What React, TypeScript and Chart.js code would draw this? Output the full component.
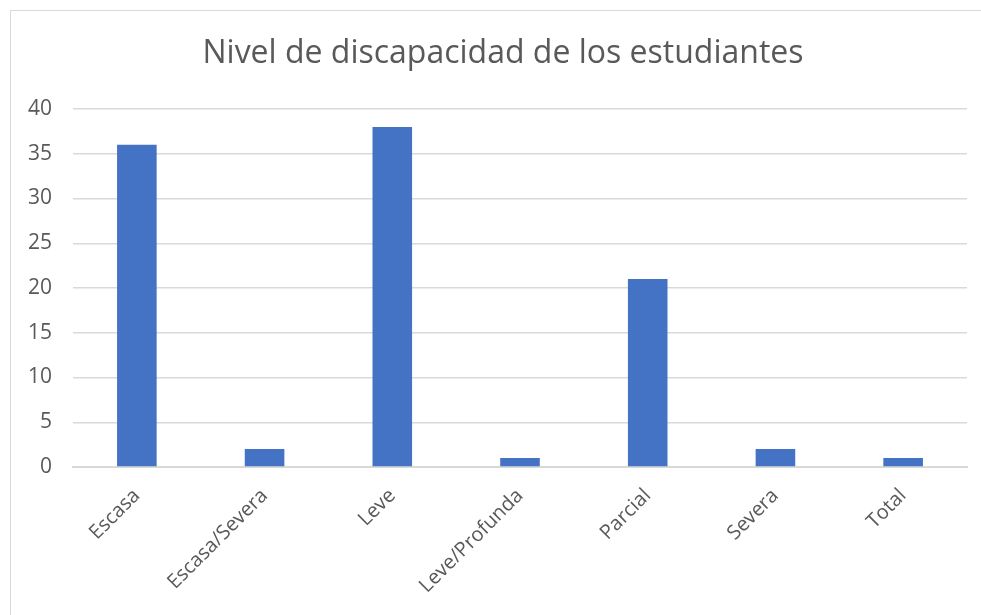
import React, { useEffect, useRef } from "react";
import { Chart, registerables } from "chart.js";

Chart.register(...registerables);

const categories = ["Escasa", "Escasa/Severa", "Leve", "Leve/Profunda", "Parcial", "Severa", "Total"];
const values = [36, 2, 38, 1, 21, 2, 1];
const yTicks = [0, 5, 10, 15, 20, 25, 30, 35, 40];
const titleText = "Nivel de discapacidad de los estudiantes";

const titlePlugin = {
  id: "centeredTitle",
  afterDraw(chart: any) {
    const ctx = chart.ctx;
    ctx.save();
    ctx.fillStyle = "#595959";
    ctx.font = "32px 'Open Sans'";
    ctx.textAlign = "center";
    ctx.textBaseline = "middle";
    ctx.fillText(titleText, 503, 54);
    ctx.restore();
  },
};

export default function App() {
  const ref = useRef<HTMLCanvasElement | null>(null);
  useEffect(() => {
    if (!ref.current) return;
    const chart = new Chart(ref.current, {
      type: "bar",
      data: {
        labels: categories,
        datasets: [
          {
            data: values,
            backgroundColor: "#4472C4",
            borderWidth: 0,
            barPercentage: 0.31,
            categoryPercentage: 1,
          },
        ],
      },
      plugins: [titlePlugin],
      options: {
        responsive: false,
        animation: false,
        layout: { padding: { left: 0, right: 14, top: 109, bottom: 0 } },
        plugins: {
          legend: { display: false },
          tooltip: { enabled: false },
          title: { display: false },
        },
        scales: {
          x: {
            grid: { display: false },
            border: { color: "#d9d9d9", width: 2 },
            ticks: {
              color: "#595959",
              font: { family: "Open Sans", size: 20 },
              minRotation: 45,
              maxRotation: 45,
              autoSkip: false,
              padding: 9,
            },
            afterFit: (s: any) => {
              s.height = 148;
            },
          },
          y: {
            min: 0,
            max: 40,
            afterBuildTicks: (s: any) => {
              s.ticks = yTicks.map((v) => ({ value: v }));
            },
            grid: { color: "#d9d9d9", lineWidth: 1.5, drawTicks: false },
            border: { display: false },
            ticks: {
              color: "#595959",
              font: { family: "Open Sans", size: 21 },
              padding: 21,
            },
            afterFit: (s: any) => {
              s.width = 73;
            },
          },
        },
      },
    });
    return () => chart.destroy();
  }, []);
  return (
    <div style={{ position: "fixed", left: 0, top: 0, width: 981, height: 615, background: "#fff", overflow: "hidden" }}>
      <div
        style={{
          position: "absolute",
          left: 10,
          top: 10,
          width: 1000,
          height: 640,
          border: "1px solid #d9d9d9",
          boxSizing: "border-box",
        }}
      />
      <canvas ref={ref} width={981} height={615} style={{ position: "absolute", left: 0, top: 0 }} />
    </div>
  );
}
